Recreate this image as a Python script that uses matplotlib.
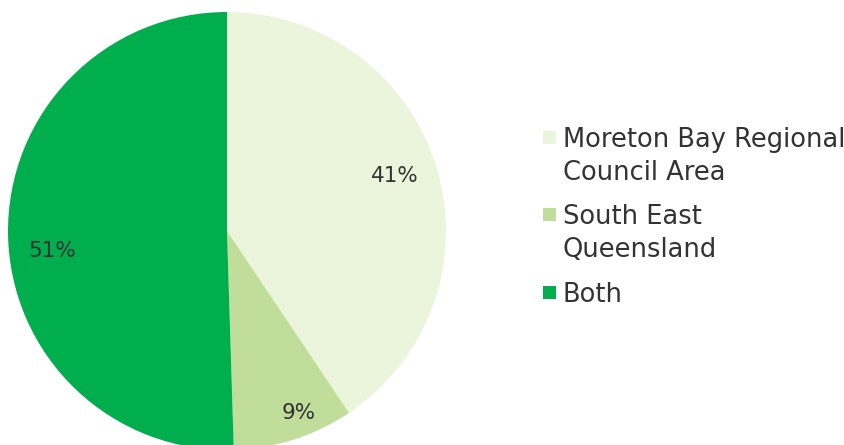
import matplotlib
matplotlib.use("Agg")
import matplotlib.pyplot as plt
from matplotlib.patches import Rectangle

categories = ["Moreton Bay Regional\nCouncil Area", "South East\nQueensland", "Both"]
values = [41, 9, 51]
labels = ["41%", "9%", "51%"]
colors = ["#EAF5DC", "#C1DD9A", "#00AE4E"]

W, H = 845, 445
fig = plt.figure(figsize=(W / 100, H / 100), dpi=100)
ax = fig.add_axes([0, 0, 1, 1])

cx, cy, r = 227, H - 231, 219
wedges, texts = ax.pie(values, colors=colors, labels=labels, startangle=90,
                       counterclock=False, center=(cx, cy), radius=r,
                       labeldistance=0.81, frame=True,
                       wedgeprops=dict(linewidth=0))
# small nudges to match label placement (pixels)
nudges = [(-2, 3), (17, -13), (3, -17)]
for t, (dx, dy) in zip(texts, nudges):
    x, y = t.get_position()
    t.set_position((x + dx, y + dy))
    t.set_ha("center")
    t.set_va("center")
    t.set_fontsize(15.5)
    t.set_color("#333333")
    t.set_family("DejaVu Sans")

ax.set_xlim(0, W)
ax.set_ylim(0, H)
ax.set_aspect("equal")
ax.axis("off")

# legend
ys = [137, 214, 292]
line_gap = 32.5
for lab, col, y in zip(categories, colors, ys):
    ax.add_patch(Rectangle((543, H - y - 6.5), 13, 13, facecolor=col, edgecolor="none"))
    for i, line in enumerate(lab.split("\n")):
        ax.text(563, H - (y + i * line_gap), line, ha="left", va="center_baseline",
                fontsize=18.5, color="#333333", family="DejaVu Sans")

fig.savefig("out.png", dpi=100)
